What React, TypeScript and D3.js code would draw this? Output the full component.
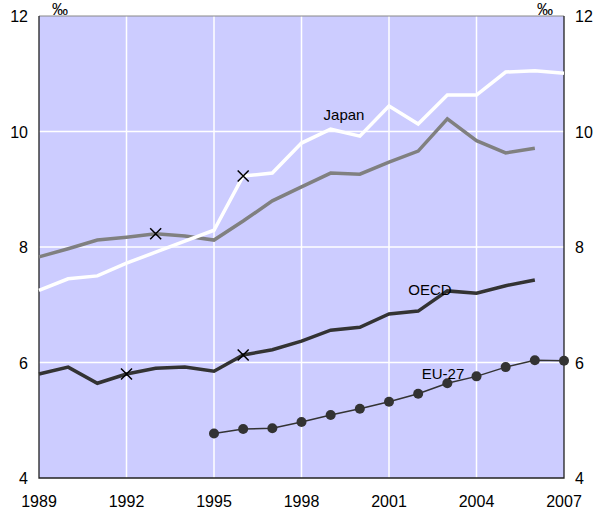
import React, { useEffect, useRef } from 'react';
import * as d3 from 'd3';

const years = d3.range(1989, 2008);
const xTicks = [1989, 1992, 1995, 1998, 2001, 2004, 2007];
const yTicks = [4, 6, 8, 10, 12];

const japan = [7.25, 7.45, 7.5, 7.72, 7.91, 8.1, 8.29, 9.23, 9.28, 9.8, 10.04, 9.92, 10.44, 10.13, 10.63, 10.63, 11.03, 11.05, 11.01];
const grey = [7.83, 7.97, 8.12, 8.17, 8.23, 8.19, 8.12, 8.45, 8.8, 9.04, 9.28, 9.26, 9.47, 9.66, 10.22, 9.84, 9.63, 9.71];
const oecd = [5.8, 5.92, 5.64, 5.8, 5.9, 5.92, 5.85, 6.13, 6.22, 6.37, 6.56, 6.61, 6.84, 6.89, 7.24, 7.2, 7.33, 7.43];
const euYears = d3.range(1995, 2008);
const eu27 = [4.77, 4.85, 4.86, 4.97, 5.09, 5.2, 5.32, 5.46, 5.64, 5.76, 5.92, 6.04, 6.03];

// cross markers: [year, value]
const crosses: [number, number][] = [[1993, 8.23], [1996, 9.23], [1992, 5.8], [1996, 6.13]];

const App: React.FC = () => {
  const svgRef = useRef<SVGSVGElement>(null);

  useEffect(() => {
    if (!svgRef.current) return;
    const svg = d3.select(svgRef.current);
    svg.selectAll('*').remove();

    const left = 39, right = 564, top = 16, bottom = 478;
    const x = d3.scaleLinear().domain([1989, 2007]).range([left, right]);
    const y = d3.scaleLinear().domain([4, 12]).range([bottom, top]);
    const font = 'Liberation Sans, Arial, sans-serif';

    svg.append('rect')
      .attr('x', left).attr('y', top)
      .attr('width', right - left).attr('height', bottom - top)
      .attr('fill', '#ccccff');

    // grid
    svg.selectAll('.vg').data(xTicks.slice(1, -1)).enter().append('line')
      .attr('x1', d => x(d)).attr('x2', d => x(d))
      .attr('y1', top).attr('y2', bottom)
      .attr('stroke', '#fff').attr('stroke-width', 1.5);
    svg.selectAll('.hg').data(yTicks.slice(1, -1)).enter().append('line')
      .attr('x1', left).attr('x2', right)
      .attr('y1', d => y(d)).attr('y2', d => y(d))
      .attr('stroke', '#fff').attr('stroke-width', 1.5);

    // frame
    svg.append('line').attr('x1', left).attr('x2', right).attr('y1', top).attr('y2', top)
      .attr('stroke', '#888').attr('stroke-width', 1);
    svg.append('path')
      .attr('d', `M${left},${top}V${bottom}H${right}V${top}`)
      .attr('fill', 'none').attr('stroke', '#222').attr('stroke-width', 1.3);

    const line = d3.line<[number, number]>().x(d => x(d[0])).y(d => y(d[1]));
    const pts = (vals: number[], ys: number[]) => vals.map((v, i) => [ys[i], v] as [number, number]);

    svg.append('path').attr('d', line(pts(grey, years)))
      .attr('fill', 'none').attr('stroke', '#808080').attr('stroke-width', 3.5);
    svg.append('path').attr('d', line(pts(japan, years)))
      .attr('fill', 'none').attr('stroke', '#ffffff').attr('stroke-width', 3.5);
    svg.append('path').attr('d', line(pts(oecd, years)))
      .attr('fill', 'none').attr('stroke', '#333333').attr('stroke-width', 3.5);
    svg.append('path').attr('d', line(pts(eu27, euYears)))
      .attr('fill', 'none').attr('stroke', '#333333').attr('stroke-width', 1.5);
    svg.selectAll('.dot').data(pts(eu27, euYears)).enter().append('circle')
      .attr('cx', d => x(d[0])).attr('cy', d => y(d[1])).attr('r', 5)
      .attr('fill', '#333333');

    const s = 5.5;
    crosses.forEach(([yr, v]) => {
      const cx = x(yr), cy = y(v);
      svg.append('path')
        .attr('d', `M${cx - s},${cy - s}L${cx + s},${cy + s}M${cx - s},${cy + s}L${cx + s},${cy - s}`)
        .attr('stroke', '#000').attr('stroke-width', 1.5);
    });

    // series labels
    const labels: [string, number, number][] = [['Japan', 344, 120], ['OECD', 430, 295], ['EU-27', 443, 379]];
    labels.forEach(([t, lx, ly]) => {
      svg.append('text').attr('x', lx).attr('y', ly).attr('text-anchor', 'middle')
        .attr('font-family', font).attr('font-size', 15).attr('fill', '#000').text(t);
    });

    // axis tick labels
    yTicks.forEach(t => {
      svg.append('text').attr('x', 28).attr('y', y(t) + 6).attr('text-anchor', 'end')
        .attr('font-family', font).attr('font-size', 16).text(t);
      svg.append('text').attr('x', 575).attr('y', y(t) + 6).attr('text-anchor', 'start')
        .attr('font-family', font).attr('font-size', 16).text(t);
    });
    xTicks.forEach(t => {
      svg.append('text').attr('x', x(t)).attr('y', 507).attr('text-anchor', 'middle')
        .attr('font-family', font).attr('font-size', 16).text(t);
    });
    svg.append('text').attr('x', 60).attr('y', 15).attr('text-anchor', 'middle')
      .attr('font-family', font).attr('font-size', 16).text('‰');
    svg.append('text').attr('x', 545).attr('y', 15).attr('text-anchor', 'middle')
      .attr('font-family', font).attr('font-size', 16).text('‰');
  }, []);

  return (
    <svg ref={svgRef} width={598} height={515}
      style={{ position: 'absolute', left: 0, top: 0, background: '#fff' }} />
  );
};

export default App;
